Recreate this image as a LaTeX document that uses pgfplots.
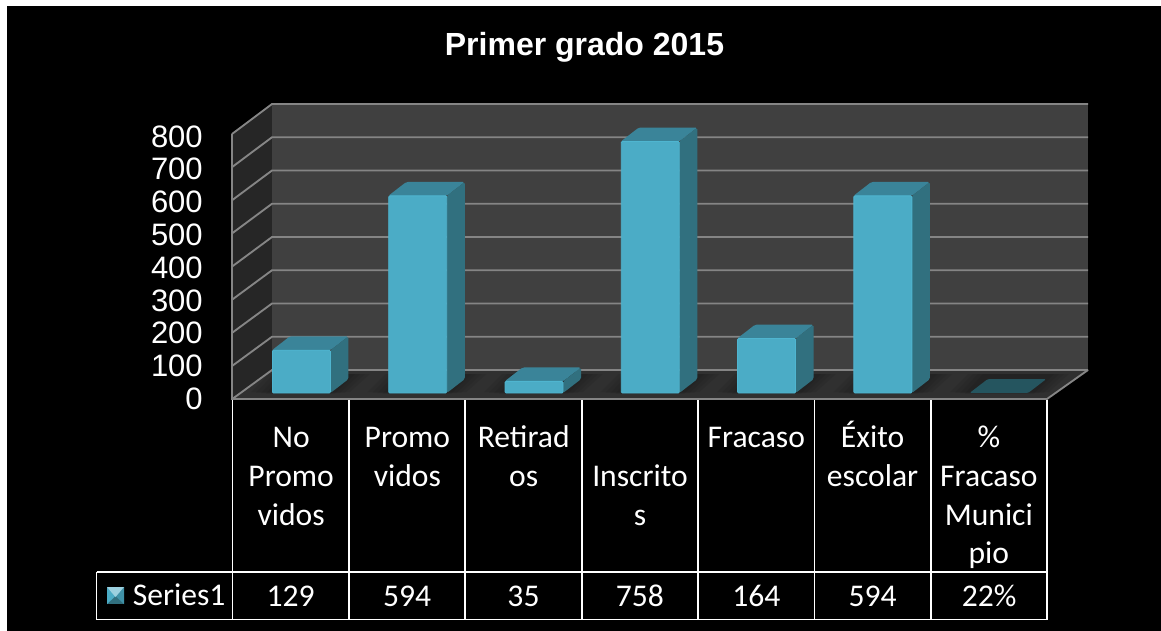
\documentclass[border=0pt]{standalone}
\usepackage{pgfplots}
\pgfplotsset{compat=1.18}
\usepackage{pgfplotstable}
\usepackage{fontspec}
\setmainfont{Liberation Sans}
\newfontfamily\calibri{Carlito}

\definecolor{barfront}{HTML}{4BACC6}
\definecolor{baredge}{HTML}{4FB5D0}
\definecolor{barside}{HTML}{31707F}
\definecolor{bartop}{HTML}{3A8499}
\definecolor{barflat}{HTML}{25555F}
\definecolor{backwall}{HTML}{404040}
\definecolor{sidewall}{HTML}{262626}
\definecolor{floorc}{HTML}{303030}
\definecolor{gridc}{HTML}{858585}

% x = left edge of the bar's cell + 0.335, depth offset in data units
\newcommand{\sidetop}[2]{%
  \pgfmathsetmacro\xa{#1+0.335}%
  \pgfmathsetmacro\xb{#1+0.838}%
  \pgfmathsetmacro\xc{#1+0.993}%
  \pgfmathsetmacro\xd{#1+0.49}%
  \pgfmathsetmacro\ya{18}%
  \pgfmathsetmacro\yb{18+42}%
  \pgfmathsetmacro\yc{18+#2}%
  \pgfmathsetmacro\yd{18+#2+42}%
  \edef\tmp{\noexpand\addplot[fill=bartop,draw=none,rounded corners=1.2pt] coordinates {(\xa,\yc)(\xd,\yd)(\xc,\yd)(\xb,\yc)} --cycle;
    \noexpand\addplot[fill=barside,draw=none,rounded corners=1.2pt] coordinates {(\xb,\ya)(\xc,\yb)(\xc,\yd)(\xb,\yc)} --cycle;}%
  \tmp
}
% same top for the first line of every category label
\newcommand{\fl}{\rule{0pt}{18pt}}

\pgfplotstableread{
x      v
0.5885 129
1.5885 594
2.5885 35
3.5885 758
4.5885 164
5.5885 594
}\bardata

\begin{document}
\begin{tikzpicture}
% canvas, walls and floor in image pixels
\begin{scope}[x=.75pt,y=-.75pt]
\fill[white] (0,0) rectangle (1161,631);
\fill[black] (7,6) rectangle (1161,631);
\fill[sidewall] (232,134) -- (272,104) -- (272,370) -- (232,399) -- cycle;
\fill[backwall] (272,104) rectangle (1088,370);
\fill[floorc] (232,399) -- (272,370) -- (1088,370) -- (1047,399) -- cycle;
% soft shadows on the floor round each bar
\foreach \k in {0,...,6}{
  \foreach \g in {0,5,10,15}{
    \fill[black,opacity=.065] ({272+116.5*\k-\g-6},{393.5-\g*0.1}) -- ({272+116.5*\k+12-\g},374) -- ({349+116.5*\k+\g+6},374) -- ({331+116.5*\k+\g+4},{393.5-\g*0.1}) -- cycle;
  }
}
\foreach \k in {0,...,8}{
  \draw[gridc,line width=1.4pt] (232,{134+33.15*\k}) -- (272,{104+33.25*\k}) -- (1088,{104+33.25*\k});
}
\draw[gridc,line width=1.4pt] (232,134) -- (232,399) -- (1047,399) -- (1088,370);
\node[font=\bfseries\fontsize{24}{28}\selectfont,white] at (584.5,47.5) {Primer grado 2015};
\end{scope}

\begin{axis}[
  at={(233*.75pt,-399*.75pt)}, anchor=south west,
  scale only axis,
  width=814*.75pt, height=265.5*.75pt,
  xmin=0, xmax=7, ymin=0, ymax=800,
  clip=false,
  axis line style={draw=none},
  tick style={draw=none},
  ytick={0,100,...,800},
  xtick={0.5,1.5,...,6.5},
  xticklabels={\fl No\\Promo\\vidos,\fl Promo\\vidos,\fl Retirad\\os,\fl\\Inscrito\\s,\fl Fracaso,\fl\smash{\'E}xito\\escolar,\fl\%\\Fracaso\\Munici\\pio},
  xticklabel style={font=\calibri\fontsize{23.7}{28.9}\selectfont,white,align=center,anchor=north,inner sep=0pt,yshift=-18.5pt},
  yticklabel={\pgfmathparse{-7.85-\tick*0.003}\raisebox{\pgfmathresult pt}[0pt][0pt]{\pgfmathprintnumber{\tick}}},
  yticklabel style={font=\fontsize{23.25}{24}\selectfont,white,anchor=east,inner sep=0pt,xshift=-22.5pt},
  /pgf/number format/assume math mode=true,
  ybar legend,
]
\sidetop{0}{129}
\sidetop{1}{594}
\sidetop{2}{35}
\sidetop{3}{758}
\sidetop{4}{164}
\sidetop{5}{594}
\addplot[ybar,bar width=58*.75pt,bar shift=0pt,yshift=4.5pt,fill=barfront,draw=baredge,line width=.6pt,rounded corners=.8pt] table[x=x,y=v] {\bardata};
% the 22% is next to nothing on this scale: a flat plate
\addplot[fill=barflat,draw=none,rounded corners=1pt] coordinates {(6.335,18.2)(6.49,60)(6.993,60)(6.838,18.2)} --cycle;
\end{axis}

% data table under the plot
\begin{scope}[x=.75pt,y=-.75pt,every node/.style={white,font=\calibri\fontsize{23.7}{28.9}\selectfont}]
\foreach \k in {0,...,7}{
  \draw[white,line width=1.3pt] ({232.5+116.4*\k},400) -- ({232.5+116.4*\k},619.5);
}
\draw[white,line width=1.3pt] (96.5,572) -- (1047.3,572);
\draw[white,line width=1.3pt] (96.5,619.5) -- (1047.3,619.5);
\draw[white,line width=1.3pt] (96.5,572) -- (96.5,619.5);
\foreach \k/\t in {0/129,1/594,2/35,3/758,4/164,5/594,6/22\%}{
  \node at ({290.7+116.4*\k},596) {\t};
}
\node[anchor=west,inner sep=0pt] at (132.5,595) {Series1};
\fill[barside] (107,587) rectangle (124,604);
\fill[barfront] (107,587) -- (115.5,596) -- (107,604) -- cycle;
\fill[barfront!85!black] (124,587) -- (115.5,596) -- (124,604) -- cycle;
\fill[barfront!55!white] (107,587) -- (124,587) -- (115.5,597) -- cycle;
\end{scope}
\end{tikzpicture}
\end{document}
